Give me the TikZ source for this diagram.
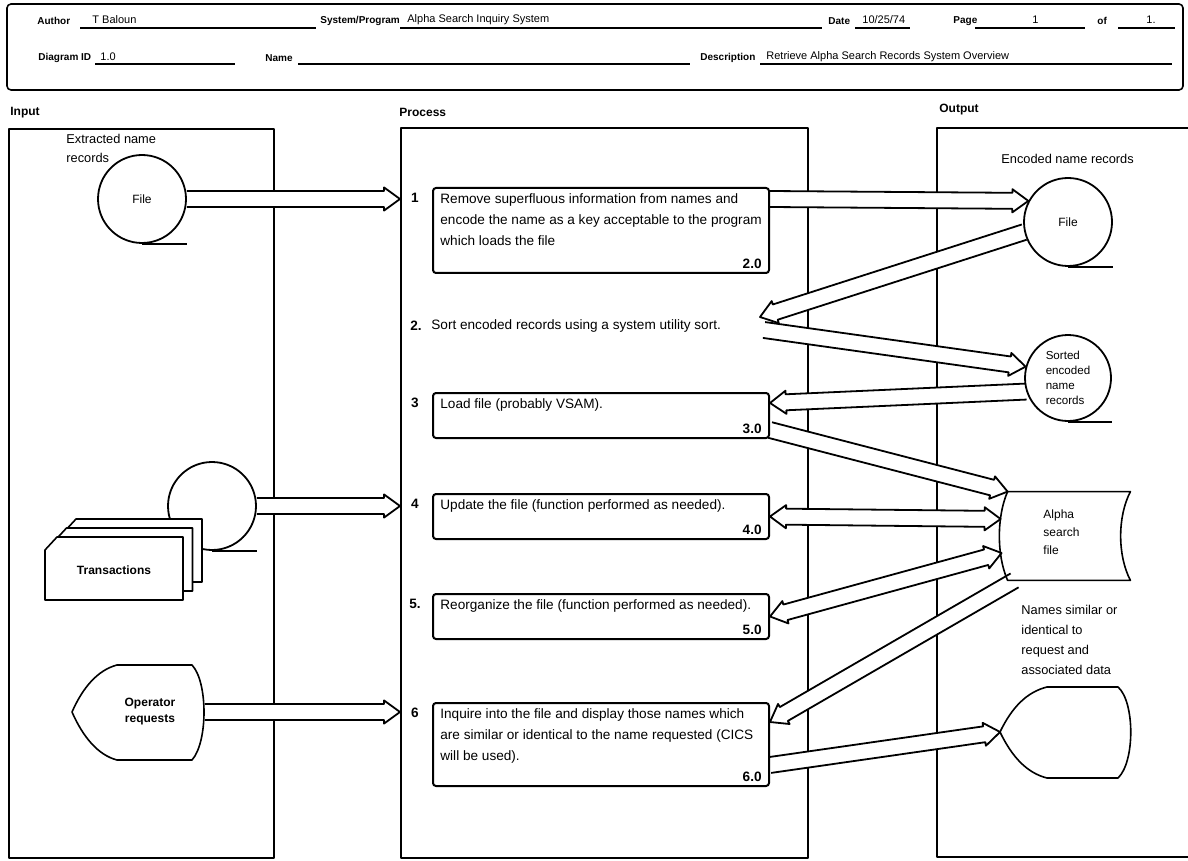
\documentclass[tikz,border=0pt]{standalone}
\usepackage{fontspec}
\setmainfont{Liberation Sans}
\usetikzlibrary{calc,positioning}

\newcommand\steptfont{\fontsize{6.8}{10.5}\selectfont}
% hollow HIPO arrow, head at the second point
\newcommand\hipoarrow[2]{%
  \path let \p1=($(#2)-(#1)$) in
    \pgfextra{\pgfmathparse{atan2(\y1,\x1)}\xdef\hipoang{\pgfmathresult}%
      \pgfmathparse{veclen(\x1,\y1)}\xdef\hipolen{\pgfmathresult}};
  \fill[white, shift={(#1)}, rotate=\hipoang] (1pt,-4pt) -- ({\hipolen pt-8pt},-4pt)
    -- ({\hipolen pt-8pt},-5.8pt) -- ({\hipolen pt},0pt) -- ({\hipolen pt-8pt},5.8pt)
    -- ({\hipolen pt-8pt},4pt) -- (1pt,4pt) -- cycle;
  \draw[hipo, shift={(#1)}, rotate=\hipoang] (0pt,-4pt) -- ({\hipolen pt-8pt},-4pt)
    -- ({\hipolen pt-8pt},-5.8pt) -- ({\hipolen pt},0pt) -- ({\hipolen pt-8pt},5.8pt)
    -- ({\hipolen pt-8pt},4pt) -- (0pt,4pt);
}
% hollow HIPO arrow with a head at both ends
\newcommand\hipodarrow[2]{%
  \path let \p1=($(#2)-(#1)$) in
    \pgfextra{\pgfmathparse{atan2(\y1,\x1)}\xdef\hipoang{\pgfmathresult}%
      \pgfmathparse{veclen(\x1,\y1)}\xdef\hipolen{\pgfmathresult}};
  \filldraw[hipo, fill=white, shift={(#1)}, rotate=\hipoang] (0pt,0pt) -- (8pt,5.8pt)
    -- (8pt,4pt) -- ({\hipolen pt-8pt},4pt) -- ({\hipolen pt-8pt},5.8pt) -- ({\hipolen pt},0pt)
    -- ({\hipolen pt-8pt},-5.8pt) -- ({\hipolen pt-8pt},-4pt) -- (8pt,-4pt) -- (8pt,-5.8pt) -- cycle;
}

\tikzset{
  frame/.style={line width=0.8pt},
  hipo/.style={line width=0.9pt},
  panel/.style={draw, line width=0.9pt, anchor=north west, inner sep=0pt},
  tape/.style={draw, circle, line width=0.9pt, minimum size=44pt, inner sep=0pt,
    font=\fontsize{6}{7.5}\selectfont},
  procbox/.style={draw, line width=1pt, rounded corners=1.5pt, anchor=north west,
    minimum width=168pt, inner sep=0pt},
  steptext/.style={anchor=north west, align=left, inner xsep=4pt, inner ysep=3pt, font=\steptfont},
  stepno/.style={inner sep=0pt, font=\steptfont\bfseries},
  refno/.style={anchor=south east, inner xsep=4pt, inner ysep=2.5pt, font=\steptfont\bfseries},
  lbl/.style={anchor=west, inner sep=0pt, font=\fontsize{5}{6}\selectfont\bfseries},
  val/.style={anchor=west, inner sep=0pt, font=\fontsize{5.5}{6.5}\selectfont},
  head/.style={anchor=west, inner sep=0pt, font=\fontsize{6}{7}\selectfont\bfseries},
  note/.style={anchor=north west, align=left, inner sep=0pt, font=\fontsize{6.4}{9.5}\selectfont},
  shapetext/.style={inner sep=0pt, align=center, font=\fontsize{6}{8}\selectfont\bfseries}
}

\begin{document}
\begin{tikzpicture}[x=0.5pt, y=-0.5pt, line join=round]
\useasboundingbox (0,0) rectangle (1188,861);

% form heading
\draw[frame, rounded corners=2pt] (7,4) rectangle (1183,90);
\node[lbl] (author) at (37,21) {Author};
\node[val] (authorv) at (92,20) {T Baloun};
\draw[frame] (80,28) -- (316,28);
\node[lbl] (sysprog) at (320,21) {System/Program};
\node[val] (sysprogv) at (407,20) {Alpha Search Inquiry System};
\draw[frame] (400,28) -- (822,28);
\node[lbl] (date) at (828,21) {Date};
\node[val] (datev) at (862,20) {10/25/74};
\draw[frame] (855,28) -- (910,28);
\node[lbl] (page) at (953,21) {Page};
\node[val] (pagev) at (1032,20) {1};
\draw[frame] (975,28) -- (1085,28);
\node[lbl] (of) at (1097,21) {of};
\node[val] (ofv) at (1146,20) {1.};
\draw[frame] (1118,28) -- (1175,28);
\node[lbl] (diag) at (38,58) {Diagram ID};
\node[val] (diagv) at (100,57) {1.0};
\draw[frame] (95,64) -- (235,64);
\node[lbl] (name) at (265,58) {Name};
\draw[frame] (298,64) -- (690,64);
\node[lbl] (descr) at (700,58) {Description};
\node[val] (descrv) at (766,57) {Retrieve Alpha Search Records System Overview};
\draw[frame] (760,64) -- (1172,64);

% panels
\node[head] (inlbl) at (10,113) {Input};
\node[head] (proclbl) at (399,112) {Process};
\node[head] (outlbl) at (939,110) {Output};
\node[panel, minimum width=132.5pt, minimum height=364.5pt] (inp) at (8,128) {};
\node[panel, minimum width=203.5pt, minimum height=365pt] (proc) at (400,127) {};
\draw[frame, line width=0.9pt] (1188,128) -- (937,128) -- (937,857) -- (1188,857);

% input
\node[note] (extr) at (66,134) {Extracted name\\records};
\node[tape] (infile) at (142,199) {File};
\node[tape] (trfile) at (212,506) {};
\foreach \f in {infile,trfile}
  \draw[frame] (\f.south) -- (\f.south -| \f.east);
\foreach \k in {2,1,0}
  \filldraw[frame, fill=white, shift={(9.5*\k,-9*\k)}] (45,550) -- (57,537) -- (183,537)
    -- (183,600) -- (45,600) -- cycle;
\node[shapetext] (trans) at (114,570) {Transactions};
\begin{scope}[shift={(138,712)}]
  \draw[frame] (-66,0) .. controls (-55,-25) and (-40,-42) .. (-21,-47) -- (54,-47)
    .. controls (70,-30) and (70,30) .. (54,48) -- (-21,48)
    .. controls (-40,43) and (-55,25) .. cycle;
  \coordinate (oprqout) at (67,0);
\end{scope}
\node[shapetext] (oprq) at (150,712) {Operator\\requests};

% process
\node[procbox, minimum height=42.5pt] (b1) at (432,187) {};
\node[steptext] at (b1.north west) {Remove superfluous information from names and\\encode the name as a key acceptable to the program\\which loads the file};
\node[refno] at (b1.south east) {2.0};
\node[stepno, anchor=west] (n2) at (410,326) {2.};
\node[anchor=west, inner sep=0pt, font=\steptfont] (sort) at (431,326) {Sort encoded records using a system utility sort.};
\node[procbox, minimum height=22.5pt] (b3) at (432,392) {};
\node[steptext] at (b3.north west) {Load file (probably VSAM).};
\node[refno] at (b3.south east) {3.0};
\node[procbox, minimum height=22.5pt] (b4) at (432,493) {};
\node[steptext] at (b4.north west) {Update the file (function performed as needed).};
\node[refno] at (b4.south east) {4.0};
\node[procbox, minimum height=22.5pt] (b5) at (432,593) {};
\node[steptext] at (b5.north west) {Reorganize the file (function performed as needed).};
\node[refno] at (b5.south east) {5.0};
\node[procbox, minimum height=41.5pt] (b6) at (432,702) {};
\node[steptext] at (b6.north west) {Inquire into the file and display those names which\\are similar or identical to the name requested (CICS\\will be used).};
\node[refno] at (b6.south east) {6.0};
\foreach \b/\n in {b1/1,b3/3,b4/4,b5/5.,b6/6}
  \node[stepno] at ($(\b.north west)+(-17,11)$) {\n};

% output
\node[note] (encl) at (1001,154) {Encoded name records};
\node[tape] (encfile) at (1068,222) {File};
\node[tape, minimum size=43pt, align=left, font=\fontsize{5.8}{7.5}\selectfont] (sortfile) at (1068,378) {Sorted\\encoded\\name\\records};
\foreach \f in {encfile,sortfile}
  \draw[frame] (\f.south) -- (\f.south -| \f.east);
\node[inner sep=0pt, minimum width=61pt, minimum height=44pt] (alpha) at (1069,536) {};
\node[note, font=\fontsize{6}{9}\selectfont] (alphatxt) at (1043,509) {Alpha\\search\\file};
\node[note, font=\fontsize{6.4}{10}\selectfont] (simil) at (1021,605) {Names similar or\\identical to\\request and\\associated data};
\node[inner sep=0pt, minimum width=66.5pt, minimum height=45.5pt] (outdisp) at (1067,732) {};

% arrows
\coordinate (in1) at (infile.east -| proc.west);
\coordinate (in2) at (trfile.east -| proc.west);
\coordinate (in3) at (oprqout -| proc.west);
\hipoarrow{infile.east}{in1}
\hipoarrow{trfile.east}{in2}
\hipoarrow{oprqout}{in3}
\coordinate (b1out) at ($(b1.north east)+(0,12)$);
\coordinate (sortout) at (764,330);
\coordinate (sortend) at (760,317);
\coordinate (b3in) at ($(b3.north east)+(0,11)$);
\coordinate (b3out) at ($(b3.south east)+(0,-9)$);
\coordinate (alphain1) at ($(alpha.west)+(-7,-17)$);
\coordinate (alphain2) at ($(alpha.west)+(-6,17)$);
\coordinate (alphaout) at ($(alpha.south west)+(7,0)$);
\coordinate (b6in) at ($(b6.north east)+(0,20)$);
\coordinate (b6out) at ($(b6.south east)+(0,-22)$);
\hipoarrow{b1out}{encfile.152}
\hipoarrow{sortout}{sortfile.165}
\hipoarrow{encfile.193}{sortend}
\hipoarrow{sortfile.198}{b3in}
\hipoarrow{b3out}{alpha.north west}
\hipodarrow{b4.east}{alphain1}
\hipodarrow{b5.east}{alphain2}
\hipoarrow{alphaout}{b6in}
\hipoarrow{b6out}{outdisp.west}

% storage and display outlines
\draw[frame] (alpha.north west) -- (alpha.north east)
  .. controls ($(alpha.north east)+(-13,25)$) and ($(alpha.south east)+(-13,-25)$) .. (alpha.south east)
  -- (alpha.south west)
  .. controls ($(alpha.south west)+(-11,-25)$) and ($(alpha.north west)+(-11,25)$) .. cycle;
\begin{scope}[shift={(outdisp.center)}]
  \draw[frame] (-67,0) .. controls (-55,-25) and (-40,-40) .. (-20,-45) -- (51,-45)
    .. controls (68,-30) and (68,30) .. (51,46) -- (-20,46)
    .. controls (-40,41) and (-55,25) .. cycle;
\end{scope}
\end{tikzpicture}
\end{document}
